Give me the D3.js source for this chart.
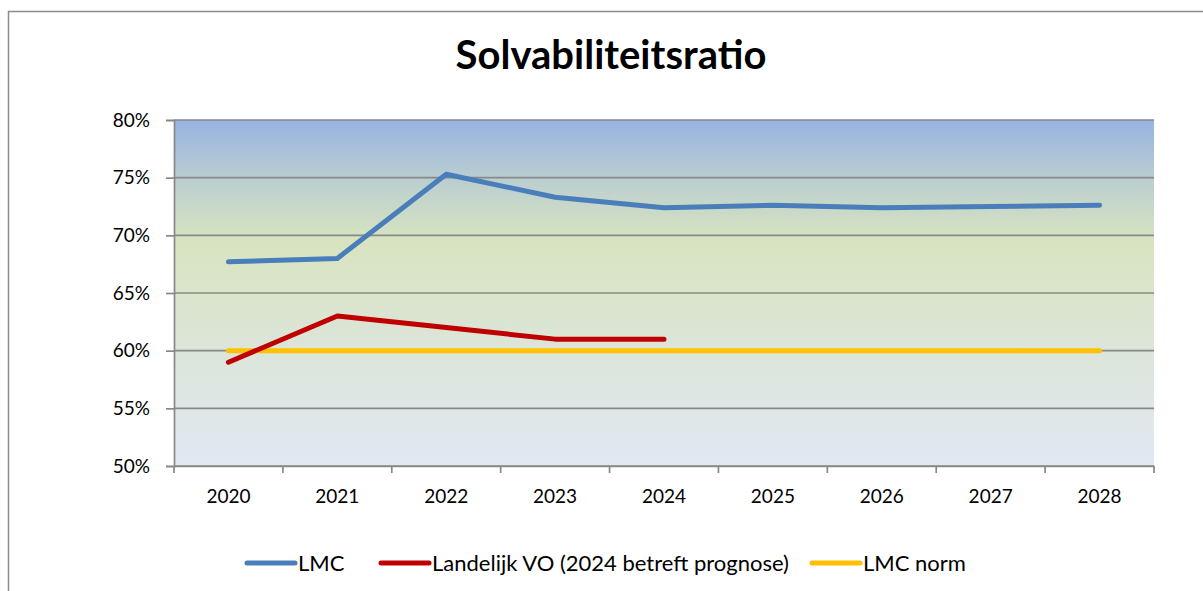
<!DOCTYPE html>
<html>
<head>
<meta charset="utf-8">
<script src="https://cdn.jsdelivr.net/npm/d3@7"></script>
<style>
  body { margin: 0; background: #fff; }
  svg text { font-family: Lato, "Open Sans", sans-serif; fill: #000; }
</style>
</head>
<body>
<svg id="chart" width="1203" height="591"></svg>
<script>
// data
const years = ["2020", "2021", "2022", "2023", "2024", "2025", "2026", "2027", "2028"];
const lmc = [67.7, 68.0, 75.3, 73.3, 72.4, 72.6, 72.4, 72.5, 72.6];
const landelijkVO = [59.0, 63.0, 62.0, 61.0, 61.0];
const lmcNorm = [60, 60, 60, 60, 60, 60, 60, 60, 60];
const yTicks = [50, 55, 60, 65, 70, 75, 80];

const seriesNames = ["LMC", "Landelijk VO (2024 betreft prognose)", "LMC norm"];
const seriesColors = ["#4a7ebb", "#c00000", "#ffc000"];

const svg = d3.select("#chart");
const margin = {top: 120, left: 174, right: 49, bottom: 125};
const width = 1203 - margin.left - margin.right,
      height = 591 - margin.top - margin.bottom;

// outer frame
svg.append("rect")
  .attr("x", 8.5).attr("y", 11.5)
  .attr("width", 1210).attr("height", 600)
  .attr("fill", "none").attr("stroke", "#8c8c8c").attr("stroke-width", 1.5);

svg.append("text")
  .attr("x", 611).attr("y", 69)
  .attr("text-anchor", "middle")
  .attr("font-size", 40).attr("font-weight", "bold")
  .text("Solvabiliteitsratio");

// background gradient for plot area
const grad = svg.append("defs").append("linearGradient")
  .attr("id", "bg").attr("x1", 0).attr("y1", 0).attr("x2", 0).attr("y2", 1);
grad.append("stop").attr("offset", "0").attr("stop-color", "#98b3e2");
grad.append("stop").attr("offset", "0.18").attr("stop-color", "#bccfcf");
grad.append("stop").attr("offset", "0.35").attr("stop-color", "#d8e4c0");
grad.append("stop").attr("offset", "0.65").attr("stop-color", "#dce5d8");
grad.append("stop").attr("offset", "1").attr("stop-color", "#e1e8f3");

const g = svg.append("g").attr("transform", `translate(${margin.left},${margin.top})`);

g.append("rect").attr("width", width).attr("height", height).attr("fill", "url(#bg)");

const x = d3.scaleBand().domain(years).range([0, width]);
const y = d3.scaleLinear().domain([50, 80]).range([height, 0]);
const cx = d => x(d) + x.bandwidth() / 2;

// gridlines
g.selectAll(".grid")
  .data(yTicks)
  .enter().append("line")
  .attr("x1", 0).attr("x2", width)
  .attr("y1", d => y(d)).attr("y2", d => y(d))
  .attr("stroke", "#888").attr("stroke-width", 1.7);

// y axis
const yAxis = g.append("g")
  .call(d3.axisLeft(y).tickValues(yTicks).tickFormat(d => d + "%").tickSize(8).tickPadding(16));
yAxis.selectAll("text").attr("font-size", 19).style("font-family", "Lato, 'Open Sans', sans-serif");

// x axis, ticks at band boundaries
const xAxis = g.append("g").attr("transform", `translate(0,${height})`)
  .call(d3.axisBottom(x).tickSize(0).tickPadding(24));
xAxis.selectAll("text").attr("font-size", 19).style("font-family", "Lato, 'Open Sans', sans-serif");
xAxis.selectAll(".bound")
  .data(d3.range(years.length + 1))
  .enter().append("line")
  .attr("class", "bound")
  .attr("x1", i => i * x.step()).attr("x2", i => i * x.step())
  .attr("y1", 0).attr("y2", 7)
  .attr("stroke", "#888").attr("stroke-width", 1.7);

g.selectAll(".domain").attr("stroke", "#888").attr("stroke-width", 1.7);
g.selectAll(".tick line").attr("stroke", "#888").attr("stroke-width", 1.7);

// lines
const line = d3.line().x(d => cx(d[0])).y(d => y(d[1]));
const seriesData = [lmc, landelijkVO, lmcNorm];
[2, 1, 0].forEach(i => {
  const pts = seriesData[i].map((v, j) => [years[j], v]);
  g.append("path")
    .attr("d", line(pts))
    .attr("fill", "none")
    .attr("stroke", seriesColors[i])
    .attr("stroke-width", 5)
    .attr("stroke-linecap", "round")
    .attr("stroke-linejoin", "round");
});

// legend
const legendX = [247, 381, 812];
const legend = svg.append("g");
seriesNames.forEach((name, i) => {
  legend.append("line")
    .attr("x1", legendX[i]).attr("x2", legendX[i] + 48)
    .attr("y1", 563).attr("y2", 563)
    .attr("stroke", seriesColors[i]).attr("stroke-width", 5)
    .attr("stroke-linecap", "round");
  legend.append("text")
    .attr("x", legendX[i] + 51).attr("y", 571)
    .attr("font-size", 22)
    .text(name);
});
</script>
</body>
</html>
